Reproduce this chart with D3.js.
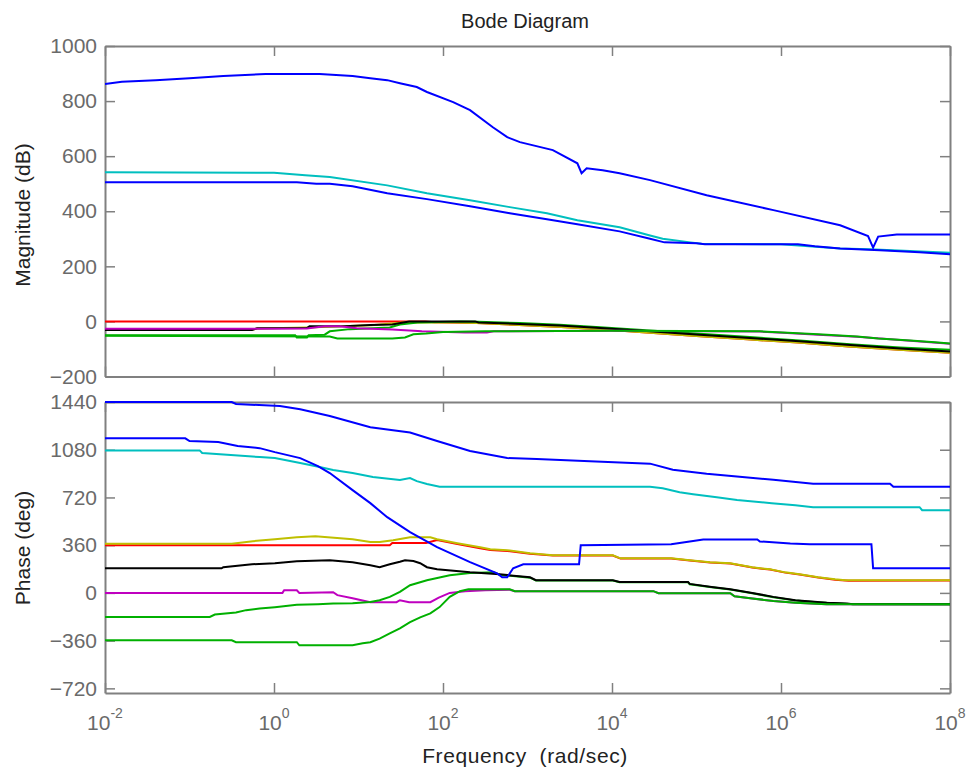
<!DOCTYPE html>
<html>
<head>
<meta charset="utf-8">
<script src="https://cdn.jsdelivr.net/npm/d3@7"></script>
<style>
  body { margin: 0; background: #fff; }
  svg { display: block; font-family: "Liberation Sans", Arial, sans-serif; }
</style>
</head>
<body>
<svg id="chart"></svg>
<script>
// tick values (x ticks are exponents of 10, rad/sec)
const freqTicks = [-2, 0, 2, 4, 6, 8];
const magTicks = [-200, 0, 200, 400, 600, 800, 1000];
const phaseTicks = [-720, -360, 0, 360, 720, 1080, 1440];

// magnitude curves (dB), points are [log10(w), value]
const magBlueTop = [[-2,862],[-1.8,870],[-1.4,876],[-1.0,883],[-0.6,891],[-0.1,898],[0.54,898],[0.93,891],[1.14,883],[1.34,876],[1.49,865],[1.69,851],[1.81,833],[2.12,796],[2.32,767],[2.59,705],[2.76,669],[2.91,651],[3.30,622],[3.59,574],[3.64,538],[3.70,556],[3.89,549],[4.09,538],[4.45,513],[5.12,458],[5.91,404],[6.70,349],[7.03,310],[7.09,268],[7.15,308],[7.37,316],[8,316]];
const magCyan = [[-2,542],[0,540],[0.37,531],[0.66,524],[1.34,494],[1.81,465],[2.32,440],[2.79,415],[3.23,393],[3.59,367],[4.09,342],[4.45,312],[4.6,300],[4.93,287],[5.06,282],[6.0,280],[6.7,265],[7.05,262],[8,249]];
const magBlueLow = [[-2,505],[0.27,505],[0.5,500],[0.66,500],[0.93,491],[1.34,465],[1.81,444],[2.32,418],[2.79,393],[3.23,371],[3.59,353],[4.09,327],[4.45,300],[4.62,287],[5.0,284],[5.1,280],[6.2,280],[6.4,273],[6.7,265],[7.17,258],[7.64,251],[8,244]];
const magRed = [[-2,0],[1.79,0],[1.9,-3],[2.4,-6],[2.9,-13],[3.4,-20],[3.9,-29],[4.45,-41],[5.0,-53],[5.6,-65],[6.2,-77],[6.8,-91],[7.4,-103],[8,-114]];
const magYellow = [[-2,-30],[-0.26,-30],[-0.2,-26],[0.4,-22],[0.8,-18],[1.15,-14],[1.53,-4],[2.0,-3],[2.4,-6],[2.9,-13],[3.4,-20],[3.9,-29],[4.45,-41],[5.0,-53],[5.6,-65],[6.2,-77],[6.8,-91],[7.4,-103],[8,-114]];
const magBlack = [[-2,-31],[-0.26,-31],[-0.2,-25],[0.39,-24],[0.42,-18],[0.78,-18],[1.14,-13],[1.4,-11],[1.53,-4],[1.6,0],[2.38,0],[2.42,-4],[2.91,-9],[3.38,-15],[3.86,-24],[4.45,-36],[5.04,-48],[5.63,-60],[6.22,-72],[6.82,-86],[7.41,-98],[8,-109]];
const magGreenA = [[-2,-50],[0.25,-50],[0.27,-58],[0.39,-58],[0.41,-50],[0.6,-48],[0.66,-36],[0.9,-28],[1.37,-22],[1.49,-11],[1.7,-4],[2.2,0],[2.42,-1],[2.91,-6],[3.38,-12],[3.86,-21],[4.45,-33],[5.04,-45],[5.63,-57],[6.22,-69],[6.82,-83],[7.41,-95],[8,-103]];
const magMagenta = [[-2,-27],[-0.26,-27],[0.39,-26],[0.6,-18],[0.78,-18],[0.98,-25],[1.4,-29],[1.6,-33],[1.75,-36],[2.26,-40],[2.52,-40],[2.6,-36],[4,-34],[5.75,-37],[6.02,-41],[6.44,-48],[6.9,-56],[7.53,-70],[8,-81]];
const magGreenB = [[-2,-52],[0.66,-55],[0.75,-62],[1.4,-62],[1.55,-58],[1.65,-47],[1.8,-44],[2.0,-38],[2.5,-36],[4.0,-34],[5.75,-36],[6.02,-40],[6.44,-47],[6.9,-55],[7.15,-62],[7.53,-69],[7.82,-76],[8,-80]];

// phase curves (deg)
const phBlueTop = [[-2,1440],[-0.5,1440],[-0.45,1425],[0.07,1410],[0.31,1386],[0.66,1335],[1.14,1250],[1.61,1210],[1.93,1146],[2.32,1070],[2.76,1017],[3.11,1010],[3.74,993],[4.45,975],[4.72,929],[5.12,899],[5.51,876],[5.91,853],[6.38,823],[7.29,823],[7.33,800],[8,800]];
const phBlueMid = [[-2,1166],[-1.05,1166],[-1.0,1146],[-0.66,1138],[-0.43,1108],[-0.17,1092],[0.01,1062],[0.31,1017],[0.52,957],[0.66,904],[0.93,775],[1.14,677],[1.34,571],[1.61,458],[1.93,345],[2.32,232],[2.64,148],[2.7,118],[2.76,118],[2.83,186],[2.95,216],[3.61,216],[3.63,360],[4.7,367],[4.84,380],[5.08,403],[5.72,403],[5.75,388],[6.11,372],[6.34,367],[7.07,367],[7.09,186],[8,186]];
const phCyan = [[-2,1075],[-0.88,1075],[-0.85,1055],[-0.17,1025],[0.01,1017],[0.31,980],[0.54,950],[0.7,927],[0.93,904],[1.17,874],[1.49,851],[1.61,866],[1.69,843],[1.81,821],[1.96,800],[4.45,800],[4.6,790],[4.8,760],[4.96,745],[5.24,722],[5.48,700],[5.89,677],[6.17,662],[6.38,647],[7.64,647],[7.67,624],[8,624]];
const phRed = [[-2,360],[1.37,360],[1.4,376],[1.8,376],[1.93,398],[2.17,368],[2.44,336],[2.56,324],[2.76,316],[3.03,296],[3.3,282],[4.01,282],[4.1,259],[4.7,259],[4.92,244],[5.16,229],[5.4,221],[5.66,191],[5.87,176],[6.05,153],[6.22,138],[6.44,116],[6.64,100],[6.8,92],[8,94]];
const phYellow = [[-2,370],[-0.5,370],[-0.25,390],[0.01,405],[0.27,420],[0.49,428],[0.93,405],[1.14,384],[1.25,384],[1.41,398],[1.61,420],[1.85,420],[1.93,405],[2.17,375],[2.44,345],[2.56,330],[2.76,322],[3.03,300],[3.3,284],[4.01,284],[4.1,261],[4.7,261],[4.92,246],[5.16,231],[5.4,223],[5.66,193],[5.87,178],[6.05,155],[6.22,140],[6.44,118],[6.64,103],[6.76,96],[8,96]];
const phMagenta = [[-2,0],[0.1,0],[0.12,20],[0.27,20],[0.3,0],[0.7,5],[0.75,-17],[0.93,-40],[1.14,-70],[1.45,-70],[1.49,-55],[1.6,-70],[1.85,-70],[1.95,-35],[2.08,0],[2.26,13],[2.5,20],[2.79,24],[2.85,13],[4.49,13],[4.55,-2],[5.4,-2],[5.45,-25],[5.66,-42],[5.91,-61],[6.17,-75],[6.54,-86],[8,-86]];
const phGreenA = [[-2,-181],[-0.76,-181],[-0.7,-163],[-0.45,-148],[-0.33,-130],[-0.17,-118],[0.01,-108],[0.27,-90],[0.52,-85],[0.7,-80],[0.93,-78],[1.14,-68],[1.25,-55],[1.37,-30],[1.49,8],[1.61,58],[1.81,96],[2.08,133],[2.32,151],[2.6,155],[2.67,137],[3.03,115],[3.1,93],[4.01,93],[4.09,80],[4.9,80],[4.92,65],[5.18,42],[5.4,25],[5.66,-3],[5.91,-33],[6.17,-58],[6.43,-71],[6.78,-84],[8,-86]];
const phBlack = [[-2,186],[-0.62,186],[-0.6,194],[-0.26,216],[0.01,224],[0.27,239],[0.66,246],[0.93,231],[1.14,209],[1.25,194],[1.37,216],[1.49,235],[1.55,246],[1.65,240],[1.73,224],[1.81,194],[1.93,178],[2.32,155],[2.67,140],[3.03,118],[3.1,96],[4.01,96],[4.09,83],[4.9,83],[4.92,68],[5.18,45],[5.4,28],[5.66,0],[5.91,-30],[6.17,-55],[6.43,-68],[6.54,-75],[6.78,-80],[6.85,-86],[8,-86]];
const phGreenB = [[-2,-357],[-0.5,-357],[-0.45,-372],[0.27,-372],[0.3,-395],[0.93,-395],[1.05,-380],[1.14,-372],[1.25,-345],[1.37,-305],[1.49,-267],[1.61,-221],[1.73,-184],[1.85,-154],[1.96,-107],[2.08,-30],[2.2,13],[2.3,28],[2.79,28],[2.85,13],[4.49,13],[4.55,-2],[5.4,-2],[5.45,-25],[5.66,-42],[5.91,-61],[6.17,-75],[6.54,-86],[8,-86]];

const blue = "#0000ff", cyan = "#00bfbf", red = "#ff0000", green = "#00b000",
  magenta = "#bf00bf", yellow = "#bfbf00", black = "#000000";

// draw order matters, later lines sit on top
const magSeries = [
  { data: magRed, color: red },
  { data: magYellow, color: yellow },
  { data: magGreenA, color: green },
  { data: magBlack, color: black },
  { data: magMagenta, color: magenta },
  { data: magGreenB, color: green },
  { data: magCyan, color: cyan },
  { data: magBlueLow, color: blue },
  { data: magBlueTop, color: blue },
];
const phaseSeries = [
  { data: phRed, color: red },
  { data: phYellow, color: yellow },
  { data: phMagenta, color: magenta },
  { data: phGreenA, color: green },
  { data: phBlack, color: black },
  { data: phGreenB, color: green },
  { data: phCyan, color: cyan },
  { data: phBlueMid, color: blue },
  { data: phBlueTop, color: blue },
];

const width = 969, height = 772;
const left = 105, right = 950;
const axisColor = "#808080";
const labelColor = "#6a6a6a";

const svg = d3.select("#chart").attr("width", width).attr("height", height);

const x = d3.scaleLog().domain([1e-2, 1e8]).range([left, right]);
const yMag = d3.scaleLinear().domain([-200, 1000]).range([376.5, 46]);
const yPhase = d3.scaleLinear().domain([-755, 1440]).range([693, 402]);

function drawPanel(name, y, ticks, series) {
  const [yb, yt] = y.range();
  const xv = freqTicks.map((e) => Math.pow(10, e));

  // inward ticks on all four sides
  const axes = [
    [d3.axisLeft(y).tickValues(ticks).tickFormat(d3.format("d")), `translate(${left},0)`],
    [d3.axisRight(y).tickValues(ticks).tickFormat(""), `translate(${right},0)`],
    [d3.axisTop(x).tickValues(xv).tickFormat(""), `translate(0,${yt})`],
    [d3.axisBottom(x).tickValues(xv).tickFormat(""), `translate(0,${yb})`],
  ];
  axes.forEach(([ax, tr]) => {
    const a = svg.append("g")
      .attr("transform", tr)
      .call(ax.tickSizeInner(-10).tickSizeOuter(0).tickPadding(8));
    a.selectAll("path").attr("stroke", axisColor).attr("stroke-width", 2);
    a.selectAll("line").attr("stroke", axisColor).attr("stroke-width", 1.5);
    a.selectAll("text")
      .attr("fill", labelColor)
      .attr("font-size", 21)
      .attr("font-family", "Liberation Sans, Arial, sans-serif");
  });

  svg.append("clipPath").attr("id", "clip-" + name)
    .append("rect")
    .attr("x", left).attr("y", yt - 2)
    .attr("width", right - left).attr("height", yb - yt + 4);

  const line = d3.line()
    .x((d) => x(Math.pow(10, d[0])))
    .y((d) => y(d[1]));

  const g = svg.append("g").attr("clip-path", `url(#clip-${name})`);
  series.forEach((s) => {
    g.append("path")
      .attr("fill", "none")
      .attr("stroke", s.color)
      .attr("stroke-width", 2)
      .attr("d", line(s.data));
  });
}

drawPanel("mag", yMag, magTicks, magSeries);
drawPanel("phase", yPhase, phaseTicks, phaseSeries);

// x tick labels 10^n
const xl = svg.append("g")
  .attr("fill", labelColor)
  .attr("font-size", 21);
freqTicks.forEach((e) => {
  const t = xl.append("text")
    .attr("x", x(Math.pow(10, e)))
    .attr("y", 730)
    .attr("text-anchor", "middle");
  t.append("tspan").text("10");
  t.append("tspan").attr("dy", -12).attr("font-size", 14).text(e);
});

// title
svg.append("text")
  .attr("x", 525)
  .attr("y", 28)
  .attr("text-anchor", "middle")
  .attr("fill", "#222")
  .style("font-size", "20px")
  .text("Bode Diagram");

// y labels
svg.append("text")
  .attr("transform", "translate(30,215) rotate(-90)")
  .attr("text-anchor", "middle")
  .attr("fill", "#222")
  .style("font-size", "21px")
  .text("Magnitude (dB)");

svg.append("text")
  .attr("transform", "translate(30,548) rotate(-90)")
  .attr("text-anchor", "middle")
  .attr("fill", "#222")
  .style("font-size", "21px")
  .text("Phase (deg)");

// x label
svg.append("text")
  .attr("x", 525)
  .attr("y", 763)
  .attr("text-anchor", "middle")
  .attr("fill", "#222")
  .style("font-size", "21px")
  .style("letter-spacing", "0.6px")
  .style("white-space", "pre")
  .text("Frequency  (rad/sec)");
</script>
</body>
</html>
